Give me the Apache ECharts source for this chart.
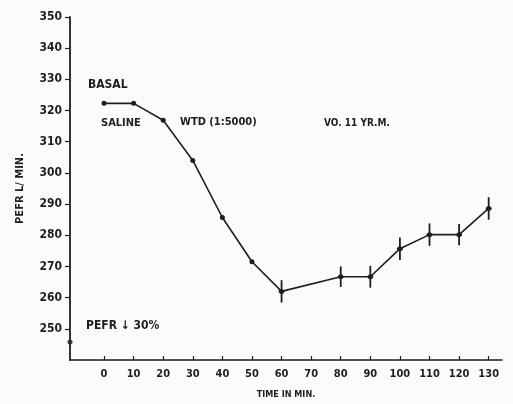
<!DOCTYPE html>
<html><head><meta charset="utf-8">
<script src="https://cdn.jsdelivr.net/npm/echarts@6/dist/echarts.min.js"></script>
<style>html,body{margin:0;padding:0;background:#fbfbfb}#c{width:513px;height:404px}</style>
</head><body><div id="c"></div>
<script>
const times = [0,10,20,30,40,50,60,80,90,100,110,120,130];
const pefr  = [322.3,322.3,316.9,304,285.7,271.5,262,266.7,266.7,275.7,280.2,280.2,288.6];
const errs  = [0,0,0,0,0,0,3.6,3.3,3.5,3.6,3.6,3.4,3.6];
const xTicks = [0,10,20,30,40,50,60,70,80,90,100,110,120,130];
const yTicks = [250,260,270,280,290,300,310,320,330,340,350];
const dropMark = [[-11.5,245.8]];

const ink = '#1e1e1e';
const font = 'DejaVu Sans Condensed';
const chart = echarts.init(document.getElementById('c'));
chart.setOption({
  backgroundColor:'#fbfbfb',
  animation:false,
  grid:{left:70,right:11,top:17,bottom:44},
  xAxis:{type:'value',min:-11.5,max:134.5,
    name:'TIME IN MIN.',nameLocation:'middle',nameGap:30,
    nameTextStyle:{color:ink,fontFamily:font,fontWeight:'bold',fontSize:9},
    axisLine:{onZero:false,lineStyle:{color:ink,width:1.6}},
    axisTick:{inside:true,length:4,lineStyle:{color:ink,width:1.2},customValues:xTicks},
    axisLabel:{color:ink,fontFamily:font,fontWeight:'bold',fontSize:11,margin:9,customValues:xTicks},
    splitLine:{show:false}},
  yAxis:{type:'value',min:240,max:350,interval:10,
    name:'PEFR L/ MIN.',nameLocation:'middle',nameGap:44,
    nameTextStyle:{color:ink,fontFamily:font,fontWeight:'bold',fontSize:11},
    axisLine:{show:true,onZero:false,lineStyle:{color:ink,width:1.8}},
    axisTick:{show:true,length:5,lineStyle:{color:ink,width:1.2},customValues:yTicks},
    axisLabel:{color:ink,fontFamily:font,fontWeight:'bold',fontSize:12,margin:8,customValues:yTicks},
    splitLine:{show:false}},
  series:[
    {type:'line',data:times.map((t,i)=>[t,pefr[i]]),symbol:'circle',symbolSize:5,
     lineStyle:{color:ink,width:1.6},itemStyle:{color:ink},z:3},
    {type:'custom',z:4,data:times.map((t,i)=>[t,pefr[i],errs[i]]),
     renderItem:function(params,api){
       const e=api.value(2); if(!e) return null;
       const x=api.value(0), v=api.value(1);
       const top=api.coord([x,v+e]), bot=api.coord([x,v-e]), mid=api.coord([x,v]);
       return {type:'group',children:[
         {type:'line',shape:{x1:top[0],y1:top[1],x2:bot[0],y2:bot[1]},style:{stroke:ink,lineWidth:1.8}},
         {type:'line',shape:{x1:mid[0]-3,y1:mid[1],x2:mid[0]+3,y2:mid[1]},style:{stroke:ink,lineWidth:1.8}}
       ]};
     }},
    {type:'scatter',data:dropMark,symbol:'circle',symbolSize:5,itemStyle:{color:ink},clip:false,z:5}
  ],
  graphic:[
    {type:'text',left:88,top:79,style:{text:'BASAL',fill:ink,font:'bold 12px "DejaVu Sans Condensed"'}},
    {type:'text',left:101,top:118,style:{text:'SALINE',fill:ink,font:'bold 11px "DejaVu Sans Condensed"'}},
    {type:'text',left:180,top:117,style:{text:'WTD (1:5000)',fill:ink,font:'bold 11px "DejaVu Sans Condensed"'}},
    {type:'text',left:324,top:118,style:{text:'VO. 11 YR.M.',fill:ink,font:'bold 10px "DejaVu Sans Condensed"'}},
    {type:'text',left:86,top:320,style:{text:'PEFR ↓ 30%',fill:ink,font:'bold 12px "DejaVu Sans Condensed"'}}
  ]
});
</script></body></html>
